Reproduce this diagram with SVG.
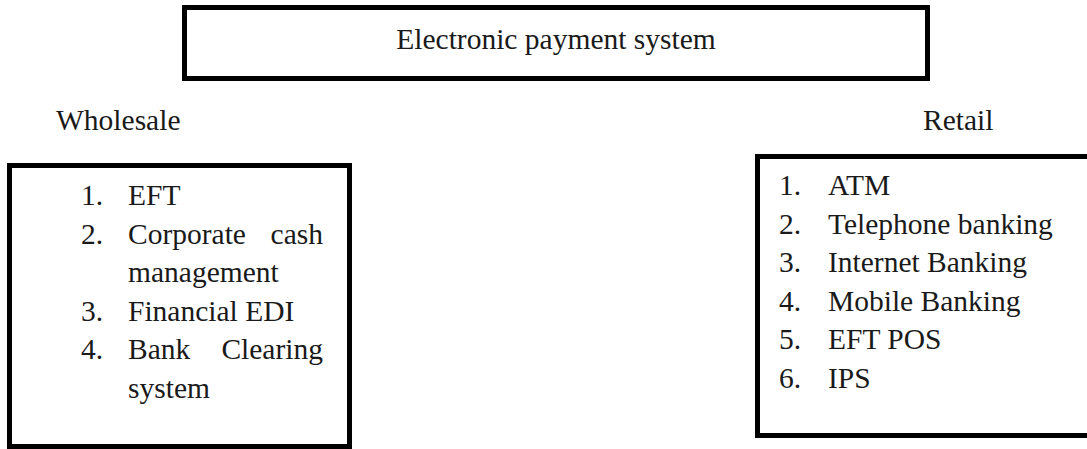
<svg xmlns="http://www.w3.org/2000/svg" width="1087" height="449" viewBox="0 0 1087 449">
<style>
.box{fill:#fff;stroke:#000;stroke-width:5}
.t{font-family:"Liberation Serif","Times New Roman",serif;font-size:29.5px;fill:#1a1a1a}
</style>
<rect width="1087" height="449" fill="#fff"/>
<g id="connectors"></g>
<g id="root">
<rect class="box" x="184.5" y="7.5" width="743" height="71"/>
<text class="t" x="556" y="49" text-anchor="middle">Electronic payment system</text>
</g>
<g id="wholesale-label"><text class="t" x="56" y="130">Wholesale</text></g>
<g id="retail-label"><text class="t" x="923" y="130">Retail</text></g>
<g id="wholesale">
<rect class="box" x="9.5" y="165.5" width="340" height="281"/>
<text class="t" x="81" y="205">1.</text><text class="t" x="128" y="205">EFT</text>
<text class="t" x="81" y="243.5">2.</text><text class="t" x="128" y="243.5">Corporate</text><text class="t" x="323" y="243.5" text-anchor="end">cash</text>
<text class="t" x="128" y="282">management</text>
<text class="t" x="81" y="320.5">3.</text><text class="t" x="128" y="320.5">Financial EDI</text>
<text class="t" x="81" y="359">4.</text><text class="t" x="128" y="359">Bank</text><text class="t" x="323" y="359" text-anchor="end">Clearing</text>
<text class="t" x="128" y="397.5">system</text>
</g>
<g id="retail">
<rect class="box" x="757.5" y="156.5" width="340" height="279"/>
<text class="t" x="779" y="195">1.</text><text class="t" x="828" y="195">ATM</text>
<text class="t" x="779" y="233.6">2.</text><text class="t" x="828" y="233.6">Telephone banking</text>
<text class="t" x="779" y="272.2">3.</text><text class="t" x="828" y="272.2">Internet Banking</text>
<text class="t" x="779" y="310.8">4.</text><text class="t" x="828" y="310.8">Mobile Banking</text>
<text class="t" x="779" y="349.4">5.</text><text class="t" x="828" y="349.4">EFT POS</text>
<text class="t" x="779" y="388">6.</text><text class="t" x="828" y="388">IPS</text>
</g>
</svg>
